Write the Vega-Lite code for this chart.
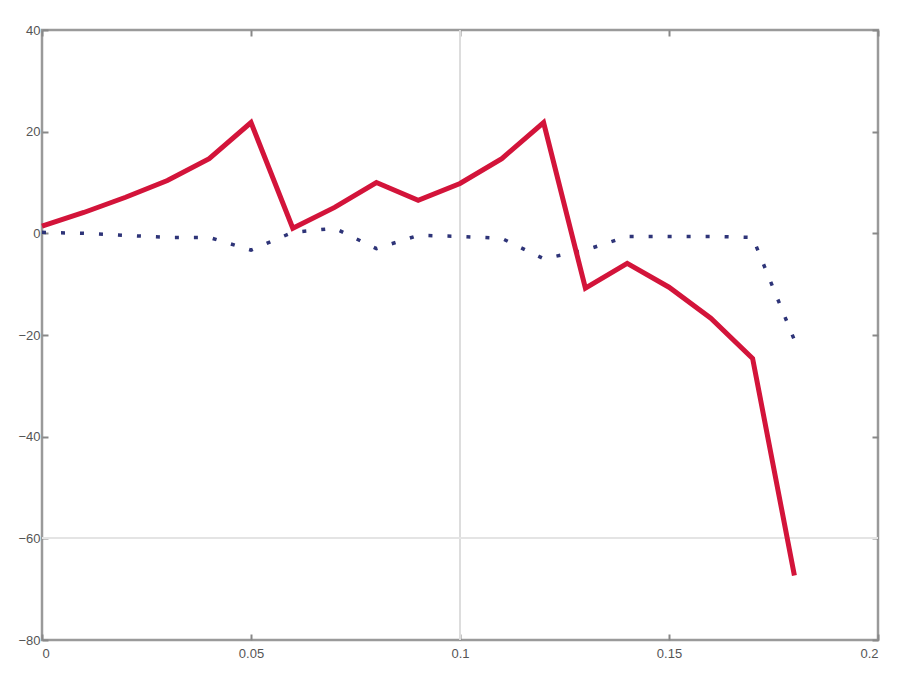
{
  "$schema": "https://vega.github.io/schema/vega-lite/v6.json",
  "width": 836,
  "height": 610,
  "autosize": {"type": "none"},
  "padding": {"left": 42, "top": 30, "right": 22, "bottom": 35},
  "background": "white",
  "config": {
    "view": {"stroke": "#9a9a9a", "strokeWidth": 2.5},
    "axis": {"domain": false, "grid": false, "tickColor": "#888", "tickWidth": 2, "tickSize": -6, "labelColor": "#555", "labelFont": "Liberation Sans", "labelFontSize": 13, "title": null}
  },
  "data": {
    "values": [
      {"x": 0.00, "y": 1.4, "s": "A"},
      {"x": 0.01, "y": 4.1, "s": "A"},
      {"x": 0.02, "y": 7.1, "s": "A"},
      {"x": 0.03, "y": 10.4, "s": "A"},
      {"x": 0.04, "y": 14.7, "s": "A"},
      {"x": 0.05, "y": 21.8, "s": "A"},
      {"x": 0.06, "y": 1.0, "s": "A"},
      {"x": 0.07, "y": 5.1, "s": "A"},
      {"x": 0.08, "y": 10.0, "s": "A"},
      {"x": 0.09, "y": 6.5, "s": "A"},
      {"x": 0.10, "y": 9.8, "s": "A"},
      {"x": 0.11, "y": 14.7, "s": "A"},
      {"x": 0.12, "y": 21.8, "s": "A"},
      {"x": 0.13, "y": -10.8, "s": "A"},
      {"x": 0.14, "y": -5.9, "s": "A"},
      {"x": 0.15, "y": -10.6, "s": "A"},
      {"x": 0.16, "y": -16.7, "s": "A"},
      {"x": 0.17, "y": -24.6, "s": "A"},
      {"x": 0.18, "y": -67.3, "s": "A"},
      {"x": 0.00, "y": 0.2, "s": "B"},
      {"x": 0.01, "y": 0.0, "s": "B"},
      {"x": 0.02, "y": -0.4, "s": "B"},
      {"x": 0.03, "y": -0.8, "s": "B"},
      {"x": 0.04, "y": -0.8, "s": "B"},
      {"x": 0.05, "y": -3.3, "s": "B"},
      {"x": 0.06, "y": 0.2, "s": "B"},
      {"x": 0.07, "y": 1.0, "s": "B"},
      {"x": 0.08, "y": -3.0, "s": "B"},
      {"x": 0.09, "y": -0.4, "s": "B"},
      {"x": 0.10, "y": -0.6, "s": "B"},
      {"x": 0.11, "y": -1.0, "s": "B"},
      {"x": 0.12, "y": -5.0, "s": "B"},
      {"x": 0.13, "y": -3.3, "s": "B"},
      {"x": 0.14, "y": -0.6, "s": "B"},
      {"x": 0.15, "y": -0.6, "s": "B"},
      {"x": 0.16, "y": -0.6, "s": "B"},
      {"x": 0.17, "y": -0.8, "s": "B"},
      {"x": 0.18, "y": -21.0, "s": "B"}
    ]
  },
  "resolve": {"axis": {"x": "independent", "y": "independent"}},
  "layer": [
    {
      "mark": {"type": "rule", "color": "#dcdcdc", "strokeWidth": 1.5},
      "encoding": {"x": {"datum": 0.1, "type": "quantitative", "scale": {"domain": [0, 0.2], "nice": false, "zero": false}, "axis": null}}
    },
    {
      "mark": {"type": "rule", "color": "#e4e4e4", "strokeWidth": 1.5},
      "encoding": {"y": {"datum": -60, "type": "quantitative", "scale": {"domain": [-80, 40], "nice": false, "zero": false}, "axis": null}}
    },
    {
      "transform": [{"filter": "datum.s === 'B'"}],
      "mark": {"type": "line", "color": "#2e3478", "strokeWidth": 3.5, "strokeDash": [4, 15], "strokeCap": "butt"},
      "encoding": {
        "x": {"field": "x", "type": "quantitative", "scale": {"domain": [0, 0.2], "nice": false, "zero": false},
              "axis": {"orient": "top", "values": [0, 0.05, 0.1, 0.15, 0.2], "labels": false}},
        "y": {"field": "y", "type": "quantitative", "scale": {"domain": [-80, 40], "nice": false, "zero": false},
              "axis": {"orient": "right", "values": [-80, -60, -40, -20, 0, 20, 40], "labels": false}}
      }
    },
    {
      "transform": [{"filter": "datum.s === 'A'"}],
      "mark": {"type": "line", "color": "#d3143a", "strokeWidth": 5, "strokeJoin": "miter"},
      "encoding": {
        "x": {"field": "x", "type": "quantitative", "scale": {"domain": [0, 0.2], "nice": false, "zero": false},
              "axis": {"orient": "bottom", "values": [0, 0.05, 0.1, 0.15, 0.2], "format": "~g", "labelPadding": 13}},
        "y": {"field": "y", "type": "quantitative", "scale": {"domain": [-80, 40], "nice": false, "zero": false},
              "axis": {"orient": "left", "values": [-80, -60, -40, -20, 0, 20, 40], "labelPadding": 8}}
      }
    }
  ]
}
